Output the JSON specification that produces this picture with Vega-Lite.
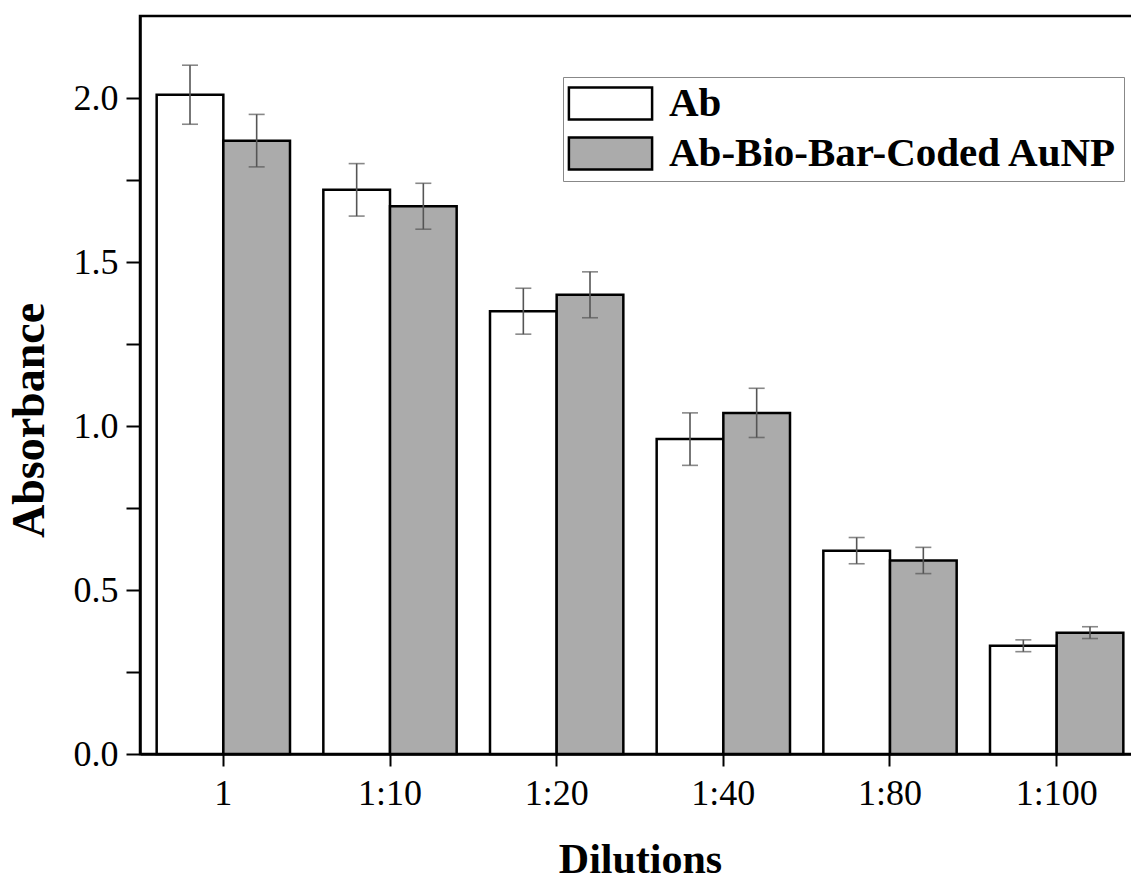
{
  "$schema": "https://vega.github.io/schema/vega-lite/v6.json",
  "autosize": {"type": "none"},
  "padding": {"left": 140, "top": 16, "right": 0, "bottom": 126},
  "width": 1000,
  "height": 738,
  "background": "white",
  "config": {
    "view": {"stroke": "black", "strokeWidth": 2.5},
    "font": "Liberation Serif"
  },
  "data": {
    "values": [
      {"dilution": "1", "series": "Ab", "value": 2.01, "lo": 1.92, "hi": 2.10},
      {"dilution": "1", "series": "Ab-Bio-Bar-Coded AuNP", "value": 1.87, "lo": 1.79, "hi": 1.95},
      {"dilution": "1:10", "series": "Ab", "value": 1.72, "lo": 1.64, "hi": 1.80},
      {"dilution": "1:10", "series": "Ab-Bio-Bar-Coded AuNP", "value": 1.67, "lo": 1.60, "hi": 1.74},
      {"dilution": "1:20", "series": "Ab", "value": 1.35, "lo": 1.28, "hi": 1.42},
      {"dilution": "1:20", "series": "Ab-Bio-Bar-Coded AuNP", "value": 1.40, "lo": 1.33, "hi": 1.47},
      {"dilution": "1:40", "series": "Ab", "value": 0.96, "lo": 0.88, "hi": 1.04},
      {"dilution": "1:40", "series": "Ab-Bio-Bar-Coded AuNP", "value": 1.04, "lo": 0.965, "hi": 1.115},
      {"dilution": "1:80", "series": "Ab", "value": 0.62, "lo": 0.58, "hi": 0.66},
      {"dilution": "1:80", "series": "Ab-Bio-Bar-Coded AuNP", "value": 0.59, "lo": 0.55, "hi": 0.63},
      {"dilution": "1:100", "series": "Ab", "value": 0.33, "lo": 0.312, "hi": 0.348},
      {"dilution": "1:100", "series": "Ab-Bio-Bar-Coded AuNP", "value": 0.37, "lo": 0.352, "hi": 0.388}
    ]
  },
  "encoding": {
    "x": {
      "field": "dilution", "type": "nominal",
      "sort": ["1", "1:10", "1:20", "1:40", "1:80", "1:100"],
      "scale": {"paddingInner": 0.2, "paddingOuter": 0.1},
      "axis": {
        "labelAngle": 0, "tickSize": 12, "tickWidth": 2, "domainWidth": 2.5,
        "labelFontSize": 36, "labelPadding": 10, "labelColor": "black", "domainColor": "black", "tickColor": "black",
        "title": "Dilutions", "titleFontSize": 42, "titleFontWeight": "bold", "titleColor": "black",
        "titleY": 118, "titleBaseline": "alphabetic"
      }
    },
    "xOffset": {"field": "series", "type": "nominal", "sort": ["Ab", "Ab-Bio-Bar-Coded AuNP"]}
  },
  "layer": [
    {
      "mark": {"type": "bar", "stroke": "black", "strokeWidth": 2.5},
      "encoding": {
        "y": {
          "field": "value", "type": "quantitative",
          "scale": {"domain": [0, 2.25], "nice": false, "zero": true},
          "axis": {
            "values": [0, 0.25, 0.5, 0.75, 1, 1.25, 1.5, 1.75, 2],
            "labelExpr": "datum.value % 0.5 == 0 ? format(datum.value, '.1f') : ''",
            "tickSize": 14, "tickWidth": 2, "domainWidth": 2.5, "grid": false,
            "labelFontSize": 36, "labelPadding": 8, "labelColor": "black", "domainColor": "black", "tickColor": "black",
            "title": "Absorbance", "titleFontSize": 46, "titleFontWeight": "bold", "titleColor": "black",
            "titlePadding": 20, "titleY": 404,
            "encode": {"ticks": {"update": {"x2": {"signal": "datum.value % 0.5 == 0 ? -14 : -8"}}}}
          }
        },
        "color": {
          "field": "series", "type": "nominal",
          "scale": {"domain": ["Ab", "Ab-Bio-Bar-Coded AuNP"], "range": ["white", "#ababab"]},
          "legend": {
            "title": null, "orient": "none", "legendX": 423, "legendY": 61,
            "symbolType": "M-2.6,-1H2.6V1H-2.6Z", "symbolSize": 1024,
            "symbolStrokeColor": "black", "symbolStrokeWidth": 2.5, "symbolOpacity": 1,
            "symbolOffset": 21, "labelOffset": 38,
            "labelFont": "Liberation Serif", "labelFontSize": 41, "labelFontWeight": "bold", "labelColor": "black", "labelLimit": 1000,
            "strokeColor": "#888888", "fillColor": "white", "padding": 6, "rowPadding": 7
          }
        }
      }
    },
    {
      "mark": {"type": "rule", "color": "#555555", "strokeWidth": 1.6},
      "encoding": {
        "y": {"field": "lo", "type": "quantitative"},
        "y2": {"field": "hi"}
      }
    },
    {
      "mark": {"type": "tick", "color": "#555555", "thickness": 1.6, "size": 16},
      "encoding": {
        "y": {"field": "lo", "type": "quantitative"}
      }
    },
    {
      "mark": {"type": "tick", "color": "#555555", "thickness": 1.6, "size": 16},
      "encoding": {
        "y": {"field": "hi", "type": "quantitative"}
      }
    }
  ]
}
